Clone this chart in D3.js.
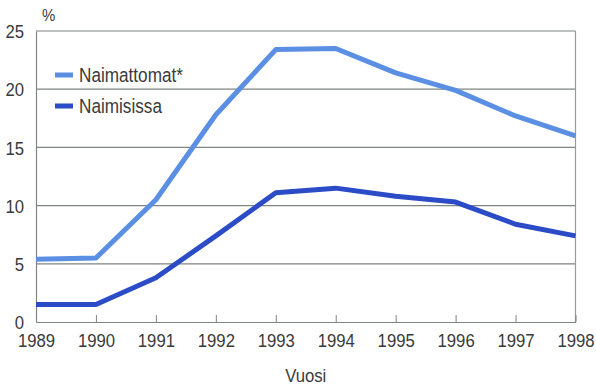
<!DOCTYPE html>
<html>
<head>
<meta charset="utf-8">
<script src="https://cdn.jsdelivr.net/npm/d3@7"></script>
<style>
  html, body { margin: 0; padding: 0; background: #fff; }
  svg text { font-family: "Liberation Sans", Arial, sans-serif; fill: #3a3a3a; }
</style>
</head>
<body>
<svg id="chart" width="596" height="387"></svg>
<script>
// Years on the x axis
const years = [1989, 1990, 1991, 1992, 1993, 1994, 1995, 1996, 1997, 1998];
// Share (%) – unmarried
const naimattomat = [5.4, 5.5, 10.5, 17.8, 23.4, 23.5, 21.4, 19.9, 17.7, 16.0];
// Share (%) – married
const naimisissa = [1.5, 1.5, 3.8, 7.4, 11.1, 11.5, 10.8, 10.3, 8.4, 7.4];
const yTicks = [0, 5, 10, 15, 20, 25];
const seriesNames = ["Naimattomat*", "Naimisissa"];
const seriesColors = ["#5b8fe3", "#2b4cc6"];

const svg = d3.select("#chart");
const margin = { left: 36, right: 20, top: 31, bottom: 65 };
const W = 596, H = 387;
const narrow = 0.88; // horizontal squeeze giving a condensed type look

const x = d3.scaleLinear().domain([1989, 1998]).range([margin.left, W - margin.right - 0.5]);
const y = d3.scaleLinear().domain([0, 25]).range([H - margin.bottom, margin.top]);

// Condensed text placed at (px, py)
function label(px, py, str, size, anchor) {
  return svg.append("text")
    .attr("transform", `translate(${px},${py}) scale(${narrow},1)`)
    .attr("text-anchor", anchor || "start")
    .attr("font-size", size)
    .text(str);
}

// Horizontal grid lines
svg.append("g")
  .selectAll("line")
  .data(yTicks.filter(d => d > 0))
  .join("line")
  .attr("x1", x.range()[0]).attr("x2", x.range()[1])
  .attr("y1", d => y(d)).attr("y2", d => y(d))
  .attr("stroke", "#7f8580").attr("stroke-width", 1.2);

// Right frame edge
svg.append("line")
  .attr("x1", x.range()[1]).attr("x2", x.range()[1])
  .attr("y1", y(25)).attr("y2", y(0))
  .attr("stroke", "#9a9a9a").attr("stroke-width", 1.2);

// Left axis
const yAxis = svg.append("g")
  .attr("transform", `translate(${margin.left},0)`)
  .call(d3.axisLeft(y).tickValues(yTicks).tickSize(0).tickPadding(0));
yAxis.select(".domain").attr("stroke", "#7f8580").attr("stroke-width", 1.2);
yAxis.selectAll(".tick text")
  .attr("x", null).attr("dy", "0.35em")
  .attr("transform", `translate(-12,0) scale(${narrow},1)`)
  .attr("font-size", 19);

// Bottom axis
const xAxis = svg.append("g")
  .attr("transform", `translate(0,${y(0)})`)
  .call(d3.axisBottom(x).tickValues(years).tickFormat(d3.format("d")).tickSizeInner(-7).tickSizeOuter(0).tickPadding(12));
xAxis.select(".domain").attr("stroke", "#7f8580").attr("stroke-width", 1.2);
xAxis.selectAll(".tick line").attr("stroke", "#7f8580").attr("stroke-width", 1);
xAxis.selectAll(".tick text")
  .attr("transform", `scale(${narrow},1)`)
  .attr("font-size", 19);
svg.selectAll("g").attr("font-family", null);

// Axis titles
label(42, 21, "%", 17);
label((x.range()[0] + x.range()[1]) / 2, 382, "Vuosi", 19, "middle");

// Series lines
const line = d3.line().x((d, i) => x(years[i])).y(d => y(d));
[naimattomat, naimisissa].forEach((vals, k) => {
  svg.append("path")
    .datum(vals)
    .attr("d", line)
    .attr("fill", "none")
    .attr("stroke", seriesColors[k])
    .attr("stroke-width", 5)
    .attr("stroke-linejoin", "round");
});

// Legend
seriesNames.forEach((name, k) => {
  const ly = 75 + k * 31;
  svg.append("line")
    .attr("x1", 55).attr("x2", 73).attr("y1", ly).attr("y2", ly)
    .attr("stroke", seriesColors[k]).attr("stroke-width", 5);
  label(79, ly + 7, name, 19.5);
});
</script>
</body>
</html>
